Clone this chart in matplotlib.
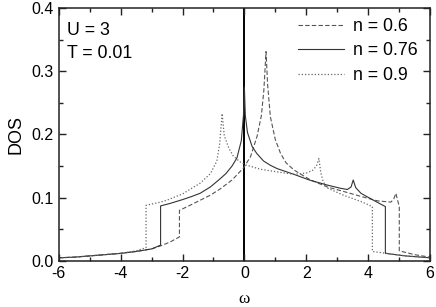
import matplotlib
matplotlib.use("Agg")
import matplotlib.pyplot as plt
from matplotlib.ticker import MultipleLocator

plt.rcParams['font.family'] = ['Liberation Sans', 'DejaVu Sans']

# n = 0.6 (dashed)
w_06 = [-6.0, -5.5, -5.0, -4.5, -4.0, -3.5, -3.0, -2.7, -2.4, -2.1, -2.1, -1.8, -1.43, -1.1, -0.78, -0.4, -0.03,
        0.2, 0.41, 0.55, 0.63, 0.70, 0.75, 0.84, 1.0, 1.17, 1.35, 1.6, 1.9, 2.14, 2.68, 3.2, 3.77, 4.31, 4.74,
        4.83, 4.90, 4.95, 5.01, 5.01, 5.5, 6.0]
d_06 = [0.005, 0.006, 0.008, 0.010, 0.012, 0.015, 0.019, 0.024, 0.030, 0.038, 0.080, 0.087, 0.096, 0.104, 0.114, 0.128, 0.147,
        0.165, 0.197, 0.230, 0.270, 0.331, 0.280, 0.228, 0.192, 0.170, 0.155, 0.144, 0.135, 0.128, 0.117, 0.110, 0.102, 0.095, 0.093,
        0.098, 0.107, 0.097, 0.086, 0.016, 0.010, 0.006]

# n = 0.76 (solid)
w_076 = [-6.0, -5.5, -5.0, -4.5, -4.0, -3.5, -3.0, -2.71, -2.71, -2.4, -2.0, -1.7, -1.43, -1.1, -0.83, -0.6, -0.4,
         -0.24, -0.1, -0.03, 0.0, 0.03, 0.1, 0.25, 0.4, 0.62, 0.85, 1.06, 1.6, 2.1, 2.68, 3.1, 3.33, 3.45, 3.52, 3.6,
         3.77, 4.1, 4.52, 4.56, 4.56, 5.2, 6.0]
d_076 = [0.005, 0.006, 0.008, 0.010, 0.012, 0.015, 0.019, 0.025, 0.087, 0.091, 0.097, 0.102, 0.107, 0.117, 0.128, 0.138, 0.150,
         0.163, 0.190, 0.230, 0.275, 0.230, 0.203, 0.181, 0.170, 0.158, 0.151, 0.146, 0.137, 0.128, 0.120, 0.115, 0.113, 0.117, 0.128, 0.116,
         0.107, 0.098, 0.087, 0.086, 0.012, 0.008, 0.005]

# n = 0.9 (dotted)
w_09 = [-6.0, -5.5, -5.0, -4.5, -4.0, -3.5, -3.18, -3.18, -2.8, -2.51, -2.0, -1.43, -1.1, -0.89, -0.8, -0.72,
        -0.65, -0.5, -0.36, -0.15, 0.03, 0.52, 1.17, 1.6, 2.0, 2.2, 2.33, 2.41, 2.47, 2.55, 2.7, 3.2, 3.77, 4.09,
        4.14, 4.14, 4.6, 5.2, 6.0]
d_09 = [0.005, 0.006, 0.008, 0.010, 0.012, 0.016, 0.021, 0.088, 0.092, 0.096, 0.106, 0.123, 0.138, 0.158, 0.185, 0.233,
        0.198, 0.178, 0.166, 0.157, 0.152, 0.145, 0.140, 0.137, 0.139, 0.143, 0.150, 0.162, 0.140, 0.125, 0.115, 0.104, 0.094, 0.087,
        0.086, 0.015, 0.012, 0.008, 0.005]

labels = ["n = 0.6", "n = 0.76", "n = 0.9"]
x_ticks = [-6, -4, -2, 0, 2, 4, 6]
y_ticks = [0.0, 0.1, 0.2, 0.3, 0.4]

fig = plt.figure(figsize=(4.36, 3.07), dpi=100)
ax = fig.add_axes([0.135, 0.150, 0.851, 0.824])

ax.axvline(0, color='black', lw=1.4, zorder=1)
ax.plot(w_06, d_06, color='#555555', lw=0.8, ls=(0, (4, 2)), label=labels[0])
ax.plot(w_076, d_076, color='#333333', lw=0.8, ls='-', label=labels[1])
ax.plot(w_09, d_09, color='#666666', lw=0.9, ls=(0, (1, 1.6)), label=labels[2])

ax.set_xlim(-6, 6)
ax.set_ylim(0, 0.4)
ax.set_xticks(x_ticks)
ax.set_xticklabels([str(t) for t in x_ticks])
ax.set_yticks(y_ticks)
ax.set_yticklabels([f"{t:.1f}" for t in y_ticks])
ax.xaxis.set_minor_locator(MultipleLocator(1))
ax.yaxis.set_minor_locator(MultipleLocator(0.05))
ax.tick_params(which='both', direction='in', top=True, right=True, labelsize=11.5, width=1.0, color='#222222')
ax.tick_params(which='major', length=5)
ax.tick_params(which='minor', length=3)
for s in ax.spines.values():
    s.set_linewidth(1.1)
    s.set_color('#222222')

ax.set_ylabel("DOS", fontsize=13, labelpad=5)
ax.set_xlabel("ω", fontsize=12.5, family=['Liberation Serif', 'DejaVu Serif'], labelpad=7)

ax.text(0.022, 0.912, "U = 3", transform=ax.transAxes, fontsize=12.8, va='center', ha='left')
ax.text(0.022, 0.822, "T = 0.01", transform=ax.transAxes, fontsize=12.8, va='center', ha='left')

ax.legend(loc='upper right', bbox_to_anchor=(1.0, 1.01), frameon=False, fontsize=12.8,
          handlelength=2.6, handletextpad=0.5, labelspacing=0.42, borderaxespad=0.3)

fig.savefig("out.png", dpi=100)
